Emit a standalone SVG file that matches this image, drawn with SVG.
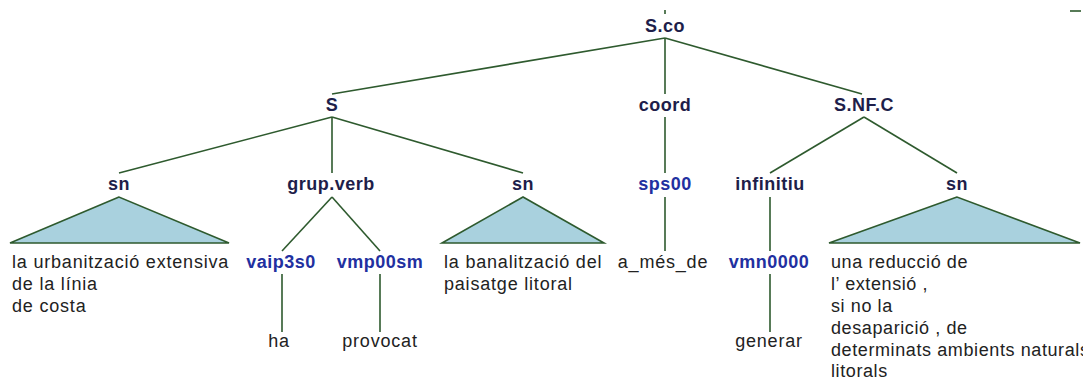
<svg xmlns="http://www.w3.org/2000/svg" width="1083" height="381" viewBox="0 0 1083 381">
<style>
.cat{font-family:"Liberation Sans",Arial,sans-serif;font-weight:bold;font-size:18px;fill:#1e1e4a;text-anchor:middle;letter-spacing:0.5px}
.pos{font-family:"Liberation Sans",Arial,sans-serif;font-weight:bold;font-size:18px;fill:#2230a0;text-anchor:middle;letter-spacing:0.5px}
.w{font-family:"Liberation Sans",Arial,sans-serif;font-size:18px;fill:#222;letter-spacing:0.8px}
.wn{letter-spacing:0.6px}
.wc{text-anchor:middle}
.e{stroke:#2e5a2e;stroke-width:1.6;fill:none}
.tri{fill:#a9d1de;stroke:#2e5a2e;stroke-width:1.6}
</style>
<rect width="1083" height="381" fill="#fff"/>
<g id="connectors">
<line class="e" x1="665" y1="10" x2="665" y2="14"/>
<line class="e" x1="1070" y1="11" x2="1081" y2="11"/>
<line class="e" x1="665" y1="38" x2="332" y2="94"/>
<line class="e" x1="665" y1="38" x2="665" y2="94"/>
<line class="e" x1="665" y1="38" x2="862" y2="94"/>
<line class="e" x1="332" y1="117" x2="119" y2="173"/>
<line class="e" x1="332" y1="117" x2="332" y2="173"/>
<line class="e" x1="332" y1="117" x2="523" y2="173"/>
<line class="e" x1="665" y1="117" x2="665" y2="173"/>
<line class="e" x1="864" y1="117" x2="770" y2="173"/>
<line class="e" x1="864" y1="117" x2="957" y2="173"/>
<line class="e" x1="332" y1="197" x2="282" y2="251"/>
<line class="e" x1="332" y1="197" x2="380" y2="251"/>
<line class="e" x1="665" y1="197" x2="665" y2="251"/>
<line class="e" x1="770" y1="197" x2="770" y2="251"/>
<line class="e" x1="282" y1="274" x2="282" y2="332"/>
<line class="e" x1="380" y1="274" x2="380" y2="332"/>
<line class="e" x1="770" y1="274" x2="770" y2="332"/>
</g>
<g id="n-sco"><text class="cat" x="665" y="32">S.co</text></g>
<g id="n-s"><text class="cat" x="332" y="111">S</text></g>
<g id="n-coord"><text class="cat" x="665" y="111">coord</text></g>
<g id="n-snfc"><text class="cat" x="864" y="111">S.NF.C</text></g>
<g id="n-sn1">
<text class="cat" x="119" y="190">sn</text>
<polygon class="tri" points="119,197 10,243 229,243"/>
<text class="w" x="12" y="268">la urbanització extensiva</text>
<text class="w" x="12" y="290">de la línia</text>
<text class="w" x="12" y="312">de costa</text>
</g>
<g id="n-grupverb"><text class="cat" x="331" y="190">grup.verb</text></g>
<g id="n-sn2">
<text class="cat" x="523" y="190">sn</text>
<polygon class="tri" points="523,197 442,243 604,243"/>
<text class="w" x="444" y="268">la banalització del</text>
<text class="w" x="444" y="290">paisatge litoral</text>
</g>
<g id="n-sps00"><text class="pos" x="665" y="190">sps00</text></g>
<g id="n-infinitiu"><text class="cat" x="770" y="190">infinitiu</text></g>
<g id="n-sn3">
<text class="cat" x="957" y="190">sn</text>
<polygon class="tri" points="957,197 829,243 1080,243"/>
<text class="w wn" x="831" y="268">una reducció de</text>
<text class="w wn" x="831" y="290">l’ extensió ,</text>
<text class="w wn" x="831" y="312">si no la</text>
<text class="w wn" x="831" y="334">desaparició , de</text>
<text class="w wn" x="831" y="356">determinats ambients naturals</text>
<text class="w wn" x="831" y="377">litorals</text>
</g>
<g id="n-vaip3s0"><text class="pos" x="281" y="268">vaip3s0</text></g>
<g id="n-vmp00sm"><text class="pos" x="380" y="268">vmp00sm</text></g>
<g id="n-amesde"><text class="w wc" x="663" y="268">a_més_de</text></g>
<g id="n-vmn0000"><text class="pos" x="769" y="268">vmn0000</text></g>
<g id="n-ha"><text class="w wc" x="279" y="347">ha</text></g>
<g id="n-provocat"><text class="w wc" x="380" y="347">provocat</text></g>
<g id="n-generar"><text class="w wc" x="769" y="347">generar</text></g>
</svg>
